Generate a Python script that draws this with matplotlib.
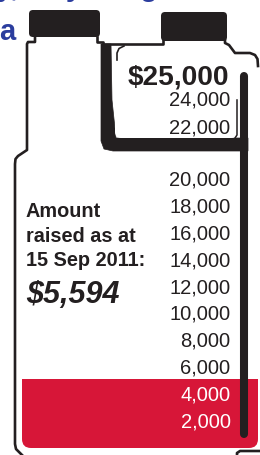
import matplotlib
matplotlib.use("Agg")
import matplotlib.pyplot as plt
from matplotlib.patches import FancyBboxPatch, Polygon

# ---------------- data ----------------
goal = 25000
amount = 5594
date_label = "15 Sep 2011"
lower_ticks = [2000, 4000, 6000, 8000, 10000, 12000, 14000, 16000, 18000, 20000]
upper_ticks = [22000, 24000]
title_lines = ["Every day, why the gift", "a"]

# ---------------- style ----------------
K = "#231f20"
RED = "#d71638"
BLUE = "#2b3d9e"
FONT = "Liberation Sans"
W, H = 260, 455

fig = plt.figure(figsize=(W / 100, H / 100), dpi=100)

# decoration axes in pixel coordinates (y down)
deco = fig.add_axes([0, 0, 1, 1], zorder=0)
deco.set_xlim(0, W)
deco.set_ylim(H, 0)
deco.axis("off")

def px_to_fig_y(py):
    return (H - py) / H

# title (cropped at top)
deco.text(-122, -4, title_lines[0], fontsize=20.5, fontweight="bold", color=BLUE,
          family=FONT, va="baseline", ha="left")
deco.text(-1, 40, title_lines[1], fontsize=21, fontweight="bold", color=BLUE,
          family=FONT, va="baseline", ha="left")

# caps
for (x0, y0, w, h) in [(29, 10, 71, 27), (161, 12, 66, 29)]:
    deco.add_patch(FancyBboxPatch((x0, y0), w, h, boxstyle="round,pad=0,rounding_size=4",
                                  fc=K, ec="none", zorder=3))

thin = 1.9
# thick L border of the upper box
verts = [(101, 44), (111, 44), (112, 100), (116, 138), (248, 138), (248, 151), (113, 151),
         (104, 149), (101, 141), (101, 44)]
deco.add_patch(Polygon(verts, closed=True, fc=K, ec=K, lw=0.5, zorder=2))
# inner white box of the upper section
deco.add_patch(FancyBboxPatch((115, 47), 122, 91, boxstyle="round,pad=0,rounding_size=6",
                              fc="white", ec="none", zorder=2.5))

# left bottle outline
deco.plot([35, 35, 28, 27, 27, 18, 15.5, 15, 15, 16, 19, 24],
          [37, 42, 42, 44, 150, 156, 159, 164, 444, 449, 452, 457],
          color=K, lw=thin, solid_joinstyle="round", zorder=5)
deco.plot([97, 97, 103, 103, 163, 163],
          [37, 42, 42, 44, 44, 40],
          color=K, lw=thin, solid_joinstyle="round", zorder=5)
# right upper bottle outline
deco.plot([225, 225, 229, 235, 250, 255, 257.5, 258],
          [40, 43, 45, 53, 53, 55, 59, 66],
          color=K, lw=thin, solid_joinstyle="round", zorder=5)
# inner edges of the upper box
deco.plot([117, 117, 119, 124], [60, 53, 48.5, 46], color=K, lw=1.2, zorder=5)
deco.plot([237, 237, 235], [100, 135, 138], color=K, lw=1.1, zorder=5)
# bottom-right corner fragment
deco.plot([237, 237, 240, 262], [458, 453, 451, 451], color=K, lw=thin, zorder=5)

# clip region for the liquid (bottle interior)
clip_patch = FancyBboxPatch((22, 150), 236, 298, boxstyle="round,pad=0,rounding_size=9",
                            transform=deco.transData, fc="none", ec="none")

# ---------------- upper value scale (22,000 - 25,000) ----------------
hi_top_px, hi_bot_px = 50, 150
hi_per_px = 1000 / 13.5
hi_vmin = 22000 - (hi_bot_px - 133) * hi_per_px
hi_vmax = 22000 + (133 - hi_top_px) * hi_per_px
ax_hi = fig.add_axes([0, px_to_fig_y(hi_bot_px), 1, (hi_bot_px - hi_top_px) / H], zorder=1)
ax_hi.set_xlim(0, W)
ax_hi.set_ylim(hi_vmin, hi_vmax)
ax_hi.axis("off")
ax_hi.patch.set_alpha(0)
for v in upper_ticks:
    ax_hi.text(230.5, v, f"{v:,}", ha="right", va="baseline", fontsize=14.5,
               color=K, family=FONT, clip_on=False)
ax_hi.annotate(f"${goal:,}", xy=(229.5, goal), xytext=(0, 6.1), textcoords="offset points",
               ha="right", va="baseline", fontsize=20.2, fontweight="bold",
               color=K, family=FONT, annotation_clip=False)

# ---------------- lower value scale (0 - 20,000) ----------------
lo_zero_px = 453.8
lo_px_per = 26.78 / 2000
lo_top_px = 150
lo_vmax = (lo_zero_px - lo_top_px) / lo_px_per
ax_lo = fig.add_axes([0, px_to_fig_y(lo_zero_px), 1, (lo_zero_px - lo_top_px) / H], zorder=2)
ax_lo.set_xlim(0, W)
ax_lo.set_ylim(0, lo_vmax)
ax_lo.axis("off")
ax_lo.patch.set_alpha(0)

bars = ax_lo.bar([140], [amount], width=236, bottom=0, color=RED, edgecolor="none")
for b in bars:
    b.set_clip_path(clip_patch)

for v in lower_ticks:
    ax_lo.text(230.5, v, f"{v:,}", ha="right", va="baseline", fontsize=14.5,
               color="white" if v < amount else K, family=FONT, clip_on=False)

# amount label
deco.text(25.5, 217, "Amount", fontsize=14.3, fontweight="bold", color=K, family=FONT,
          va="baseline", ha="left", zorder=6)
deco.text(25.5, 241.5, "raised as at", fontsize=14.3, fontweight="bold", color=K, family=FONT,
          va="baseline", ha="left", zorder=6)
deco.text(25.5, 266, f"{date_label}:", fontsize=14.3, fontweight="bold", color=K, family=FONT,
          va="baseline", ha="left", zorder=6)
deco.text(26, 303, f"${amount:,}", fontsize=22, fontweight="bold", style="italic", color=K,
          family=FONT, va="baseline", ha="left", zorder=6)

# ---------------- top layer: gauge tube ----------------
top = fig.add_axes([0, 0, 1, 1], zorder=3)
top.set_xlim(0, W)
top.set_ylim(H, 0)
top.axis("off")
top.patch.set_alpha(0)
top.plot([244, 244], [76, 434], color=K, lw=5.8, solid_capstyle="round")

fig.savefig("out.png", dpi=100)
